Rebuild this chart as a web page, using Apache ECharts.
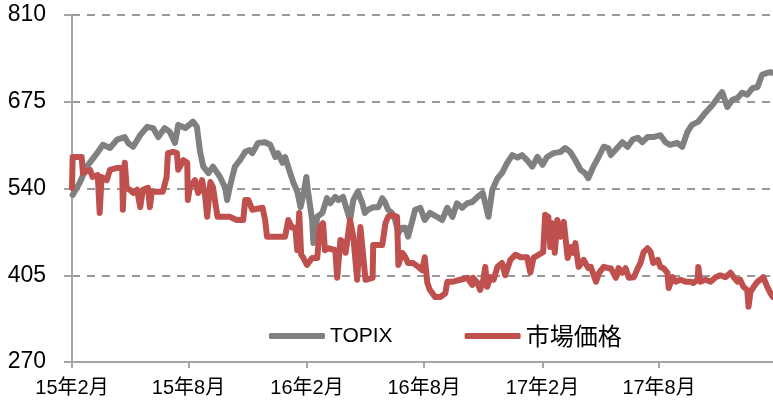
<!DOCTYPE html>
<html>
<head>
<meta charset="utf-8">
<script src="https://cdn.jsdelivr.net/npm/echarts@6/dist/echarts.min.js"></script>
<style>html,body{margin:0;padding:0;background:#fff;}#c{width:773px;height:403px;}</style>
</head>
<body>
<div id="c"></div>
<script>
var tickDates = ['2015-02-01','2015-08-01','2016-02-01','2016-08-01','2017-02-01','2017-08-01'];
var tickLabels = ['15年2月','15年8月','16年2月','16年8月','17年2月','17年8月'];
var xStart = '2015-02-01', xEnd = '2018-01-25';
var yTicks = [270, 405, 540, 675, 810];

var topixDates = ['2015-02-02','2015-02-13','2015-02-24','2015-03-12','2015-03-21','2015-04-01','2015-04-12','2015-04-24','2015-04-29','2015-05-07','2015-05-18','2015-05-29','2015-06-07','2015-06-15','2015-06-25','2015-07-03','2015-07-11','2015-07-16','2015-07-27','2015-08-08','2015-08-14','2015-08-19','2015-08-24','2015-09-01','2015-09-08','2015-09-19','2015-09-27','2015-09-30','2015-10-04','2015-10-12','2015-10-20','2015-10-28','2015-11-04','2015-11-08','2015-11-17','2015-11-28','2015-12-06','2015-12-14','2015-12-18','2015-12-25','2015-12-29','2016-01-06','2016-01-11','2016-01-17','2016-01-22','2016-01-27','2016-01-31','2016-02-03','2016-02-09','2016-02-11','2016-02-17','2016-02-25','2016-03-03','2016-03-08','2016-03-16','2016-03-21','2016-03-28','2016-04-03','2016-04-08','2016-04-13','2016-04-20','2016-04-27','2016-05-01','2016-05-06','2016-05-14','2016-05-22','2016-05-28','2016-06-01','2016-06-06','2016-06-12','2016-06-17','2016-06-22','2016-06-28','2016-07-03','2016-07-07','2016-07-14','2016-07-18','2016-07-26','2016-08-02','2016-08-10','2016-08-21','2016-08-29','2016-09-06','2016-09-14','2016-09-21','2016-09-29','2016-10-07','2016-10-15','2016-10-23','2016-10-31','2016-11-04','2016-11-09','2016-11-15','2016-11-23','2016-11-30','2016-12-08','2016-12-16','2016-12-24','2016-12-31','2017-01-08','2017-01-16','2017-01-24','2017-02-01','2017-02-08','2017-02-18','2017-03-01','2017-03-08','2017-03-16','2017-03-24','2017-04-01','2017-04-08','2017-04-13','2017-04-21','2017-04-29','2017-05-07','2017-05-14','2017-05-18','2017-05-28','2017-06-05','2017-06-13','2017-06-21','2017-06-29','2017-07-06','2017-07-14','2017-07-23','2017-08-03','2017-08-11','2017-08-18','2017-08-29','2017-09-06','2017-09-14','2017-09-21','2017-10-01','2017-10-12','2017-10-23','2017-10-31','2017-11-07','2017-11-15','2017-11-23','2017-12-01','2017-12-08','2017-12-16','2017-12-24','2018-01-01','2018-01-08','2018-01-16','2018-01-21','2018-01-25'];
var topixValues = [530,549,574,595,608,603,616,620,611,605,623,636,634,620,634,628,611,639,634,644,636,597,574,564,574,558,541,522,542,574,584,597,600,595,611,612,608,589,595,580,589,564,549,535,511,533,558,533,491,455,496,502,525,517,527,522,527,507,491,522,535,517,502,507,511,511,525,519,507,502,491,471,479,479,465,491,507,510,491,502,496,491,510,496,517,510,517,519,527,533,517,496,538,556,564,580,592,588,592,584,574,589,577,589,595,597,603,597,584,569,564,556,574,589,605,603,592,603,612,605,616,619,612,620,620,623,612,608,611,605,628,639,644,658,670,681,690,667,678,681,689,686,696,698,717,720,721,720];

var marketDates = ['2015-02-01','2015-02-02','2015-02-16','2015-02-18','2015-03-01','2015-03-05','2015-03-13','2015-03-16','2015-03-19','2015-03-27','2015-04-01','2015-04-12','2015-04-20','2015-04-21','2015-04-24','2015-04-27','2015-05-02','2015-05-07','2015-05-13','2015-05-18','2015-05-22','2015-05-30','2015-06-02','2015-06-05','2015-06-13','2015-06-22','2015-06-28','2015-06-30','2015-07-08','2015-07-14','2015-07-16','2015-07-24','2015-07-30','2015-07-31','2015-08-03','2015-08-11','2015-08-16','2015-08-22','2015-08-27','2015-08-30','2015-09-04','2015-09-08','2015-09-15','2015-09-24','2015-10-04','2015-10-15','2015-10-25','2015-10-28','2015-11-02','2015-11-08','2015-11-24','2015-11-28','2015-12-01','2015-12-14','2015-12-29','2016-01-03','2016-01-09','2016-01-14','2016-01-17','2016-01-20','2016-01-23','2016-01-26','2016-02-01','2016-02-09','2016-02-17','2016-02-21','2016-02-26','2016-02-29','2016-03-05','2016-03-16','2016-03-19','2016-03-24','2016-03-28','2016-04-01','2016-04-08','2016-04-13','2016-04-19','2016-04-24','2016-04-27','2016-05-02','2016-05-13','2016-05-14','2016-05-28','2016-06-02','2016-06-06','2016-06-12','2016-06-20','2016-06-22','2016-06-28','2016-07-03','2016-07-07','2016-07-15','2016-07-23','2016-07-29','2016-08-02','2016-08-06','2016-08-10','2016-08-14','2016-08-18','2016-08-26','2016-09-03','2016-09-06','2016-09-15','2016-09-26','2016-10-07','2016-10-15','2016-10-16','2016-10-23','2016-10-27','2016-11-01','2016-11-04','2016-11-07','2016-11-12','2016-11-17','2016-11-23','2016-11-30','2016-12-05','2016-12-13','2016-12-21','2016-12-29','2017-01-08','2017-01-13','2017-01-18','2017-01-26','2017-02-02','2017-02-05','2017-02-10','2017-02-13','2017-02-16','2017-02-20','2017-02-24','2017-03-01','2017-03-06','2017-03-12','2017-03-17','2017-03-21','2017-03-24','2017-03-29','2017-04-06','2017-04-13','2017-04-17','2017-04-25','2017-04-30','2017-05-07','2017-05-14','2017-05-18','2017-05-26','2017-05-30','2017-06-05','2017-06-10','2017-06-15','2017-06-23','2017-06-29','2017-07-03','2017-07-08','2017-07-14','2017-07-19','2017-07-23','2017-07-30','2017-08-03','2017-08-08','2017-08-14','2017-08-16','2017-08-22','2017-08-27','2017-09-03','2017-09-11','2017-09-19','2017-09-23','2017-09-30','2017-10-01','2017-10-04','2017-10-12','2017-10-20','2017-10-28','2017-11-04','2017-11-12','2017-11-20','2017-11-25','2017-12-01','2017-12-05','2017-12-10','2017-12-16','2017-12-18','2017-12-21','2017-12-26','2018-01-01','2018-01-05','2018-01-10','2018-01-16','2018-01-21','2018-01-25'];
var marketValues = [541,589,589,564,569,558,561,502,558,553,569,572,572,507,580,541,538,533,538,511,538,541,511,535,535,535,558,595,597,595,569,584,580,522,542,553,533,553,527,496,550,542,496,496,496,491,491,522,522,507,510,491,465,465,465,491,479,479,444,502,437,433,421,432,432,480,486,444,447,444,401,460,457,440,491,465,398,480,483,398,401,452,452,486,496,499,496,421,440,433,424,424,418,413,433,393,382,377,371,371,377,395,395,398,401,390,401,393,382,398,418,387,402,398,418,424,405,429,437,433,433,409,432,437,441,499,496,449,486,440,491,465,488,432,449,440,455,418,429,416,418,395,409,418,416,416,401,416,409,416,401,402,416,424,441,447,441,424,429,418,416,409,385,402,395,398,395,395,393,398,418,395,398,395,402,405,402,409,402,395,398,387,382,356,379,387,395,398,402,387,377,371];

function ts(s) { var p = s.split('-'); return Date.UTC(+p[0], +p[1] - 1, +p[2]); }
function pairs(d, v) { return d.map(function (x, i) { return [ts(x), v[i]]; }); }
var tickTs = tickDates.map(ts);

var chart = echarts.init(document.getElementById('c'), null, {renderer: 'canvas'});
var axisGray = '#a6a6a6';
chart.setOption({
  animation: false,
  backgroundColor: '#ffffff',
  grid: {left: 72, right: 0, top: 15, bottom: 41, containLabel: false},
  legend: {
    left: 264, top: 319,
    itemWidth: 56, itemHeight: 6, itemGap: 72,
    icon: 'roundRect',
    data: ['TOPIX', '市場価格'],
    formatter: function (n) { return n === 'TOPIX' ? '{a|' + n + '}' : '{b|' + n + '}'; },
    textStyle: {
      color: '#000',
      rich: {
        a: {fontFamily: 'Liberation Sans', fontSize: 21, color: '#000', height: 28},
        b: {fontFamily: 'Noto Sans CJK JP', fontSize: 24, color: '#000', height: 28}
      }
    }
  },
  xAxis: {
    type: 'value',
    min: ts(xStart),
    max: ts(xEnd),
    axisLine: {show: true, lineStyle: {color: axisGray, width: 2}},
    axisTick: {show: true, length: 6, lineStyle: {color: axisGray, width: 2}, customValues: tickTs},
    splitLine: {show: false},
    axisLabel: {
      customValues: tickTs,
      showMinLabel: true,
      margin: 16,
      color: '#000',
      fontSize: 20,
      fontFamily: 'Liberation Sans, Noto Sans CJK JP',
      formatter: function (val) {
        var best = 0, bd = Infinity;
        for (var i = 0; i < tickTs.length; i++) {
          var dd = Math.abs(tickTs[i] - val);
          if (dd < bd) { bd = dd; best = i; }
        }
        return tickLabels[best];
      }
    }
  },
  yAxis: {
    type: 'value',
    min: yTicks[0],
    max: yTicks[yTicks.length - 1],
    interval: yTicks[1] - yTicks[0],
    axisLine: {show: true, lineStyle: {color: axisGray, width: 2}},
    axisTick: {show: true, length: 8, lineStyle: {color: axisGray, width: 2}},
    axisLabel: {color: '#000', fontSize: 23, fontFamily: 'Liberation Sans', margin: 26},
    splitLine: {show: true, lineStyle: {color: '#999999', width: 2, type: [8, 7]}}
  },
  series: [
    {
      name: 'TOPIX', type: 'line', showSymbol: false, symbol: 'none',
      data: pairs(topixDates, topixValues),
      lineStyle: {color: '#808080', width: 6, join: 'round', cap: 'round'},
      itemStyle: {color: '#808080'}
    },
    {
      name: '市場価格', type: 'line', showSymbol: false, symbol: 'none',
      data: pairs(marketDates, marketValues),
      lineStyle: {color: '#c0504d', width: 6, join: 'round', cap: 'round'},
      itemStyle: {color: '#c0504d'}
    }
  ]
});
</script>
</body>
</html>
